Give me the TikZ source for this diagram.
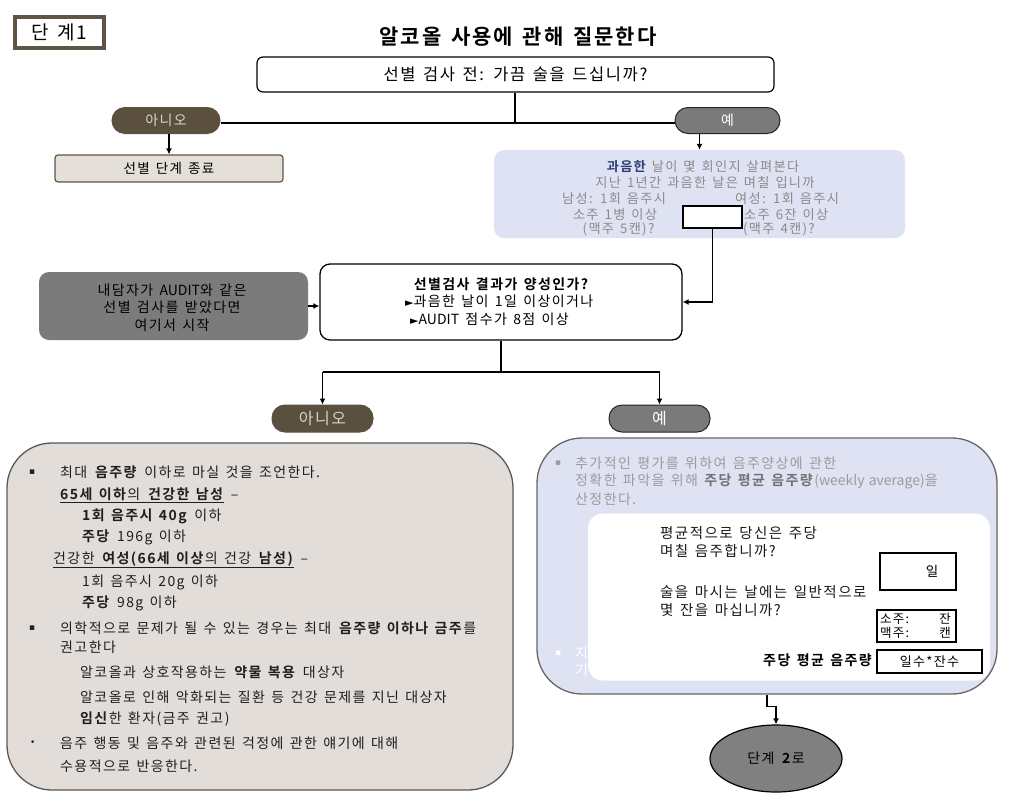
\documentclass[tikz,border=0pt]{standalone}
\usepackage{fontspec}
\setmainfont{Noto Sans CJK KR}[BoldFont={Noto Sans CJK KR Bold},LetterSpace=10,WordSpace=1.4]
\newfontfamily\plainlat{Noto Sans CJK KR}[WordSpace=1.3]
\newfontfamily\sym{DejaVu Sans}
\usetikzlibrary{arrows.meta,shapes.geometric,calc}
\definecolor{brownB}{HTML}{5E5448}
\definecolor{brownP}{HTML}{5B4F40}
\definecolor{pillTxt}{HTML}{DCD4C6}
\definecolor{grayP}{HTML}{7A7A7A}
\definecolor{beigeS}{HTML}{E4DFD9}
\definecolor{beigeL}{HTML}{E2DDD8}
\definecolor{lav}{HTML}{DFE2F2}
\definecolor{grayBox}{HTML}{7B7B7B}
\definecolor{grayTxt}{HTML}{8A8A8A}
\definecolor{grayTxtR}{HTML}{9B9B9B}
\definecolor{dblue}{HTML}{2E3D78}
\definecolor{ellGray}{HTML}{808080}
\newcommand{\fs}[1]{\fontsize{#1}{#1}\selectfont}
\begin{document}
\begin{tikzpicture}[x=1pt,y=-1pt,
  conn/.style={line width=1.2pt,draw=black},
  arr/.style={conn,-{Latex[length=6pt,width=6pt]}},
  pill/.style={rounded corners=13pt,minimum height=26pt,inner sep=0pt,line width=1pt,font=\fs{14}},
  rbox/.style={rectangle,inner sep=0pt},
  txt/.style={inner sep=0pt,anchor=west},
  ctxt/.style={inner sep=0pt},
]
\useasboundingbox (0,0) rectangle (1024,798);

% stage label
\node[rbox,draw=brownB,line width=4pt,fill=white,minimum width=89pt,minimum height=31pt,font=\fs{19}] (stage) at (59.5,32.5) {단 계1};
% title
\node[ctxt,font=\bfseries\fs{21}] (title) at (518,37) {알코올 사용에 관해 질문한다};
% question
\node[rbox,draw,line width=1.2pt,rounded corners=6pt,fill=white,minimum width=517pt,minimum height=35pt,font=\fs{16.5}] (q) at (515.5,74.5) {선별 검사 전: 가끔 술을 드십니까?};

% pills 1
\node[pill,fill=brownP,draw=brownP,text=pillTxt,minimum width=108pt] (no1) at (166,120.5) {아니오};
\node[pill,fill=grayP,draw=black!85,text=white,minimum width=105pt] (yes1) at (727.5,120.5) {예};
\coordinate (j1) at (515,123);
\draw[conn] (q.south -| j1) -- (j1);
\draw[conn] (no1.east |- j1) -- (yes1.west |- j1);

% end box
\node[rbox,draw=brownB,line width=1.2pt,rounded corners=3pt,fill=beigeS,minimum width=228pt,minimum height=27pt,font=\fs{13.5}] (end1) at (169,168.5) {선별 단계 종료};
\draw[arr] (no1.south -| end1.north) -- (end1.north);

% blue box
\node[rbox,fill=lav,rounded corners=10pt,minimum width=411pt,minimum height=88pt] (blue) at (699.5,194) {};
\draw[arr] (blue.north |- yes1.south) -- (blue.north);
\begin{scope}[every node/.style={text=grayTxt,font=\fs{13.2}}]
\node[ctxt] (b1) at (703,167) {{\color{dblue}\bfseries 과음한} 날이 몇 회인지 살펴본다};
\node[ctxt] (b2) at (705,183) {지난 1년간 과음한 날은 며칠 입니까};
\node[txt] (b3) at (562,199) {남성: 1회 음주시};
\node[txt] (b4) at (735,199) {여성: 1회 음주시};
\node[ctxt] (b5) at (615,214.5) {소주 1병 이상};
\node[txt] (b6) at (744,214.5) {소주 6잔 이상};
\node[ctxt] (b7) at (618.5,229.5) {(맥주 5캔)?};
\node[txt] (b8) at (743,229.5) {(맥주 4캔)?};
\end{scope}
\node[rbox,draw,line width=1.2pt,fill=white,minimum width=59pt,minimum height=22pt] (inbox) at (712.5,217) {};

% positive box
\node[rbox,draw,line width=1.3pt,rounded corners=10pt,fill=white,minimum width=362pt,minimum height=76pt] (pos) at (501,302) {};
\node[ctxt,font=\bfseries\fs{14}] (p1) at (501,284) {선별검사 결과가 양성인가?};
\node[txt,font=\fs{14}] (p2) at (405,301.5) {{\sym\fs{11}►}과음한 날이 1일 이상이거나};
\node[txt,font=\fs{14}] (p3) at (410,319.5) {{\sym\fs{11}►}{\plainlat AUDIT} 점수가 8점 이상};
\draw[arr] (inbox.south) |- (pos.east);

% gray start box
\node[rbox,fill=grayBox,rounded corners=10pt,minimum width=269pt,minimum height=68pt] (gray) at (173.5,306) {};
\node[ctxt,font=\fs{14}] (g1) at (172,290) {내담자가 {\plainlat AUDIT}와 같은};
\node[ctxt,font=\fs{14}] (g2) at (172,307.5) {선별 검사를 받았다면};
\node[ctxt,font=\fs{14}] (g3) at (172,325) {여기서 시작};
\draw[arr] (gray.east) -- (gray.east -| pos.west);

% second split
\node[pill,fill=brownP,draw=brownP,text=pillTxt,minimum width=101pt,minimum height=27pt,font=\fs{16}] (no2) at (322.5,418.5) {아니오};
\node[pill,fill=grayP,draw=black!85,text=white,minimum width=101pt,minimum height=27pt,font=\fs{16}] (yes2) at (659.5,418.5) {예};
\coordinate (j2) at (501,372);
\draw[conn] (pos.south) -- (j2);
\draw[conn] (no2.north |- j2) -- (yes2.north |- j2);
\draw[arr] (no2.north |- j2) -- (no2.north);
\draw[arr] (yes2.north |- j2) -- (yes2.north);

% left big box
\node[rbox,draw=black!65,line width=1.3pt,rounded corners=45pt,fill=beigeL,minimum width=506pt,minimum height=347pt] (left) at (260,616.5) {};
\begin{scope}[every node/.style={txt,font=\fs{14},text=black!88}]
\node (l1b) at (29,472.5) {{\sym\fs{9}▪}};
\node (l1) at (60,472.5) {최대 \textbf{음주량} 이하로 마실 것을 조언한다.};
\node (l2) at (60,495) {\underline{\textbf{65세 이하}의 \textbf{건강한 남성}} –};
\node (l3) at (82,516) {\textbf{1회 음주시 40g} 이하};
\node (l4) at (82,537) {\textbf{주당} 196g 이하};
\node (l5) at (53,560) {\underline{건강한 \textbf{여성(66세 이상}의 건강 \textbf{남성)}} –};
\node (l6) at (82,582) {1회 음주시 20g 이하};
\node (l7) at (82,603) {\textbf{주당}  98g 이하};
\node (l8b) at (29,628) {{\sym\fs{9}▪}};
\node (l8) at (60,628) {의학적으로 문제가 될 수 있는 경우는 최대 \textbf{음주량 이하나 금주}를};
\node (l9) at (60,647.5) {권고한다};
\node (l10) at (80,672) {알코올과 상호작용하는 \textbf{약물 복용} 대상자};
\node (l11) at (80,697) {알코올로 인해 악화되는 질환 등 건강 문제를 지닌 대상자};
\node (l12) at (80,719) {\textbf{임신}한 환자(금주 권고)};
\node (l13b) at (30,743) {{\sym\fs{9}•}};
\node (l13) at (60,743) {음주 행동 및 음주와 관련된 걱정에 관한 얘기에 대해};
\node (l14) at (60,766) {수용적으로 반응한다.};
\end{scope}

% right big box
\node[rbox,draw=black!60,line width=1.3pt,rounded corners=45pt,fill=lav,minimum width=460pt,minimum height=256pt] (right) at (767,566) {};
\begin{scope}[every node/.style={txt,font=\fs{14},text=grayTxtR}]
\node (r1b) at (555,463) {{\sym\fs{9}▪}};
\node (r1) at (575,463) {추가적인 평가를 위하여 음주양상에 관한};
\node (r2) at (575,481) {정확한 파악을 위해 {\color{black!55}\textbf{주당 평균 음주량}}{\plainlat (weekly average)}을};
\node (r3) at (575,499) {산정한다.};
\node[text=white] (r4b) at (555,653) {{\sym\fs{9}▪}};
\node[text=white] (r4) at (575,653) {지};
\node[text=white] (r5) at (575,670) {기};
\end{scope}
\node[rbox,fill=white,rounded corners=15pt,minimum width=402pt,minimum height=167pt] (inner) at (789,597) {};
\begin{scope}[every node/.style={txt,font=\fs{14.5},text=black!90}]
\node (i1) at (660,533) {평균적으로 당신은 주당};
\node (i2) at (660,551) {며칠 음주합니까?};
\node (i3) at (660,592) {술을 마시는 날에는 일반적으로};
\node (i4) at (660,610) {몇 잔을 마십니까?};
\end{scope}
\node[rbox,draw,line width=1.2pt,minimum width=76pt,minimum height=37pt] (dayBox) at (918,571.5) {};
\node[ctxt,font=\fs{13.5}] (dayTxt) at (932,571.5) {일};
\node[rbox,draw,line width=1.2pt,minimum width=79pt,minimum height=32pt] (glassBox) at (916.5,626) {};
\node[txt,font=\fs{12.5}] (s1) at (880,619) {소주:};
\node[txt,font=\fs{12.5}] (s2) at (880,633) {맥주:};
\node[ctxt,font=\fs{12.5}] (s3) at (945,619) {잔};
\node[ctxt,font=\fs{12.5}] (s4) at (945,633) {캔};
\node[rbox,draw,line width=1.2pt,minimum width=105pt,minimum height=23pt,font=\fs{13}] (avgBox) at (929.5,661.5) {일수*잔수};
\node[inner sep=0pt,anchor=east,font=\bfseries\fs{14}] (avgLbl) at (872,660) {주당 평균 음주량};

% to stage 2
\node[ellipse,draw,line width=1.2pt,fill=ellGray,minimum width=132pt,minimum height=67pt,inner sep=0pt,font=\fs{14}] (ell) at (776,758.5) {단계 \textbf{2}로};
\draw[arr] (right.south) -- ++(0,12) -| (ell.north);
\end{tikzpicture}
\end{document}
